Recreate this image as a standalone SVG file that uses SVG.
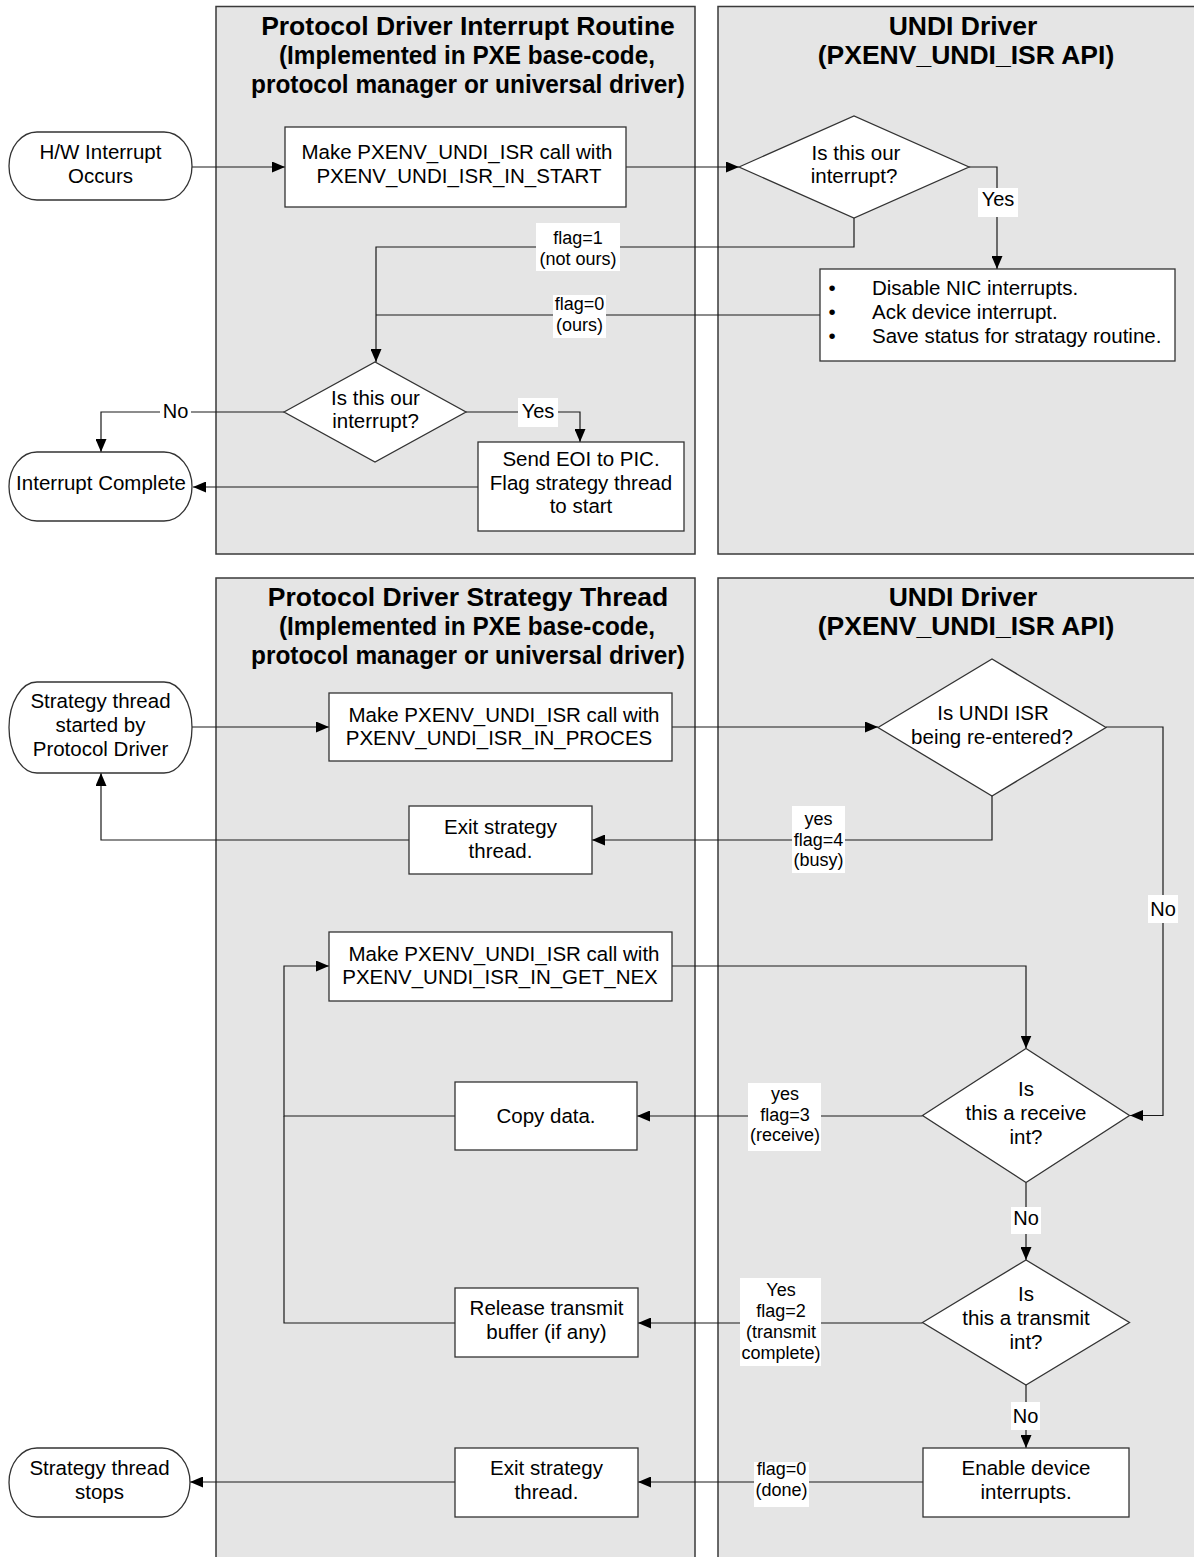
<svg xmlns="http://www.w3.org/2000/svg" width="1194" height="1557" viewBox="0 0 1194 1557">
  <style>
    .panel { fill: #e5e5e5; stroke: #3a3a3a; stroke-width: 1.5; }
    .box { fill: #ffffff; stroke: #333333; stroke-width: 1.3; }
    .ln { fill: none; stroke: #1a1a1a; stroke-width: 1.2; }
    .arr { marker-end: url(#ah); }
    .bg { fill: #ffffff; }
    .t { font-family: "Liberation Sans", Arial, Helvetica, sans-serif; font-size: 20.5px; fill: #000000; text-anchor: middle; }
    .tl { text-anchor: start; }
    .ti { font-weight: bold; font-size: 26.5px; }
    .lb { font-size: 18px; }
    .yn { font-size: 20px; }
  </style>
  <defs>
    <marker id="ah" markerUnits="userSpaceOnUse" markerWidth="13" markerHeight="11" refX="13" refY="5.5" orient="auto">
      <path d="M0,0 L13,5.5 L0,11 Z" fill="#000000"/>
    </marker>
  </defs>

  <rect width="1194" height="1557" fill="#ffffff"/>

  <!-- swimlanes -->
  <g id="lanes">
    <g id="lane-isr-protocol">
      <rect class="panel" x="216" y="6.5" width="479" height="547.5"/>
      <text class="t ti" x="468" y="35">Protocol Driver Interrupt Routine</text>
      <text class="t ti" x="467" y="64" textLength="376" lengthAdjust="spacingAndGlyphs">(Implemented in PXE base-code,</text>
      <text class="t ti" x="468" y="93" textLength="434" lengthAdjust="spacingAndGlyphs">protocol manager or universal driver)</text>
    </g>
    <g id="lane-isr-undi">
      <rect class="panel" x="718" y="6.5" width="490" height="547.5"/>
      <text class="t ti" x="963" y="35">UNDI Driver</text>
      <text class="t ti" x="966" y="64">(PXENV_UNDI_ISR API)</text>
    </g>
    <g id="lane-strategy-protocol">
      <rect class="panel" x="216" y="578" width="479" height="1000"/>
      <text class="t ti" x="468" y="606">Protocol Driver Strategy Thread</text>
      <text class="t ti" x="467" y="635" textLength="376" lengthAdjust="spacingAndGlyphs">(Implemented in PXE base-code,</text>
      <text class="t ti" x="468" y="664" textLength="434" lengthAdjust="spacingAndGlyphs">protocol manager or universal driver)</text>
    </g>
    <g id="lane-strategy-undi">
      <rect class="panel" x="718" y="578" width="490" height="1000"/>
      <text class="t ti" x="963" y="606">UNDI Driver</text>
      <text class="t ti" x="966" y="635">(PXENV_UNDI_ISR API)</text>
    </g>
  </g>

  <!-- connectors -->
  <g id="connectors">
    <path class="ln arr" d="M192,167 H285"/>
    <path class="ln arr" d="M626,167 H739"/>
    <path class="ln arr" d="M969,167 H997 V269"/>
    <path class="ln arr" d="M854,218 V247 H376 V362"/>
    <path class="ln" d="M820,315 H376"/>
    <path class="ln arr" d="M284,412 H101 V452"/>
    <path class="ln arr" d="M466,412 H580 V442"/>
    <path class="ln arr" d="M478,487 H193"/>

    <path class="ln arr" d="M192,727 H329"/>
    <path class="ln arr" d="M672,727 H878"/>
    <path class="ln arr" d="M992,796 V840 H592"/>
    <path class="ln arr" d="M409,840 H101 V773"/>
    <path class="ln arr" d="M1106,727 H1163 V1115.5 H1130"/>
    <path class="ln arr" d="M672,966 H1026 V1048.5"/>
    <path class="ln arr" d="M922.5,1116 H637"/>
    <path class="ln arr" d="M455,1116 H284 V966 H329"/>
    <path class="ln" d="M455,1323 H284 V1116"/>
    <path class="ln arr" d="M1026,1182.5 V1260"/>
    <path class="ln arr" d="M922.5,1323 H638"/>
    <path class="ln arr" d="M1026,1385 V1448"/>
    <path class="ln arr" d="M923,1482 H638"/>
    <path class="ln arr" d="M455,1482 H190"/>

    <!-- branch labels -->
    <rect class="bg" x="978" y="188" width="40" height="29"/>
    <text class="t yn" x="998" y="206">Yes</text>

    <rect class="bg" x="536" y="223" width="84" height="48"/>
    <text class="t lb" x="578" y="244">flag=1</text>
    <text class="t lb" x="578" y="265">(not ours)</text>

    <rect class="bg" x="553" y="295" width="53" height="43"/>
    <text class="t lb" x="579.5" y="310">flag=0</text>
    <text class="t lb" x="579.5" y="331">(ours)</text>

    <rect class="bg" x="160" y="399" width="31" height="26"/>
    <text class="t yn" x="175.5" y="418">No</text>

    <rect class="bg" x="518" y="398" width="40" height="29"/>
    <text class="t yn" x="538" y="418">Yes</text>

    <rect class="bg" x="792" y="806" width="53" height="67"/>
    <text class="t lb" x="818.5" y="825">yes</text>
    <text class="t lb" x="818.5" y="845.5">flag=4</text>
    <text class="t lb" x="818.5" y="866">(busy)</text>

    <rect class="bg" x="1148" y="895" width="30" height="28"/>
    <text class="t yn" x="1163" y="916">No</text>

    <rect class="bg" x="748" y="1083" width="73" height="68"/>
    <text class="t lb" x="785" y="1100">yes</text>
    <text class="t lb" x="785" y="1121">flag=3</text>
    <text class="t lb" x="785" y="1141">(receive)</text>

    <rect class="bg" x="1011" y="1207" width="30" height="27"/>
    <text class="t yn" x="1026" y="1224.5">No</text>

    <rect class="bg" x="740" y="1278" width="81" height="88"/>
    <text class="t lb" x="781" y="1296">Yes</text>
    <text class="t lb" x="781" y="1317">flag=2</text>
    <text class="t lb" x="781" y="1338">(transmit</text>
    <text class="t lb" x="781" y="1359">complete)</text>

    <rect class="bg" x="1011" y="1402" width="29" height="28"/>
    <text class="t yn" x="1025.5" y="1423">No</text>

    <rect class="bg" x="754" y="1462" width="55" height="45"/>
    <text class="t lb" x="781.5" y="1475">flag=0</text>
    <text class="t lb" x="781.5" y="1496">(done)</text>
  </g>

  <!-- interrupt routine nodes -->
  <g id="hw-interrupt">
    <rect class="box" x="9" y="132" width="183" height="68" rx="28" ry="34"/>
    <text class="t" x="100.5" y="159">H/W Interrupt</text>
    <text class="t" x="100.5" y="183">Occurs</text>
  </g>
  <g id="isr-start-call">
    <rect class="box" x="285" y="127" width="341" height="80"/>
    <text class="t" x="457" y="159">Make PXENV_UNDI_ISR call with</text>
    <text class="t" x="459" y="183">PXENV_UNDI_ISR_IN_START</text>
  </g>
  <g id="undi-our-interrupt">
    <polygon class="box" points="739,167 854,116 969,167 854,218"/>
    <text class="t" x="856" y="159.5">Is this our</text>
    <text class="t" x="854" y="183">interrupt?</text>
  </g>
  <g id="undi-ack">
    <rect class="box" x="820" y="269" width="355" height="92"/>
    <text class="t" x="832" y="295">•</text>
    <text class="t" x="832" y="319">•</text>
    <text class="t" x="832" y="343">•</text>
    <text class="t tl" x="872" y="295">Disable NIC interrupts.</text>
    <text class="t tl" x="872" y="319">Ack device interrupt.</text>
    <text class="t tl" x="872" y="343">Save status for stratagy routine.</text>
  </g>
  <g id="protocol-our-interrupt">
    <polygon class="box" points="284,412 375,362 466,412 375,462"/>
    <text class="t" x="375.5" y="404.5">Is this our</text>
    <text class="t" x="375.5" y="428">interrupt?</text>
  </g>
  <g id="send-eoi">
    <rect class="box" x="478" y="442" width="206" height="89"/>
    <text class="t" x="581" y="466">Send EOI to PIC.</text>
    <text class="t" x="581" y="490">Flag strategy thread</text>
    <text class="t" x="581" y="513">to start</text>
  </g>
  <g id="interrupt-complete">
    <rect class="box" x="9" y="452" width="183" height="69" rx="28" ry="34.5"/>
    <text class="t" x="101" y="490">Interrupt Complete</text>
  </g>

  <!-- strategy thread nodes -->
  <g id="strategy-started">
    <rect class="box" x="9" y="682" width="183" height="91" rx="28" ry="45.5"/>
    <text class="t" x="100.5" y="708">Strategy thread</text>
    <text class="t" x="100.5" y="732">started by</text>
    <text class="t" x="100.5" y="756">Protocol Driver</text>
  </g>
  <g id="isr-process-call">
    <rect class="box" x="329" y="693" width="343" height="68"/>
    <text class="t" x="504" y="721.5">Make PXENV_UNDI_ISR call with</text>
    <text class="t" x="499" y="745">PXENV_UNDI_ISR_IN_PROCES</text>
  </g>
  <g id="undi-reentered">
    <polygon class="box" points="878,727.5 992,659 1106,727.5 992,796"/>
    <text class="t" x="993" y="720">Is UNDI ISR</text>
    <text class="t" x="992" y="744">being re-entered?</text>
  </g>
  <g id="exit-busy">
    <rect class="box" x="409" y="806" width="183" height="68"/>
    <text class="t" x="500.5" y="834">Exit strategy</text>
    <text class="t" x="500.5" y="858">thread.</text>
  </g>
  <g id="isr-get-next-call">
    <rect class="box" x="329" y="932" width="343" height="69"/>
    <text class="t" x="504" y="960.5">Make PXENV_UNDI_ISR call with</text>
    <text class="t" x="500" y="984">PXENV_UNDI_ISR_IN_GET_NEX</text>
  </g>
  <g id="copy-data">
    <rect class="box" x="455" y="1082" width="182" height="68"/>
    <text class="t" x="546" y="1123">Copy data.</text>
  </g>
  <g id="undi-receive">
    <polygon class="box" points="922.5,1115.5 1026,1048.5 1129.5,1115.5 1026,1182.5"/>
    <text class="t" x="1026" y="1096">Is</text>
    <text class="t" x="1026" y="1120">this a receive</text>
    <text class="t" x="1026" y="1144">int?</text>
  </g>
  <g id="release-buffer">
    <rect class="box" x="455" y="1288" width="183" height="69"/>
    <text class="t" x="546.5" y="1315">Release transmit</text>
    <text class="t" x="546.5" y="1339">buffer (if any)</text>
  </g>
  <g id="undi-transmit">
    <polygon class="box" points="922.5,1322.5 1026,1260 1129.5,1322.5 1026,1385"/>
    <text class="t" x="1026" y="1301">Is</text>
    <text class="t" x="1026" y="1325">this a transmit</text>
    <text class="t" x="1026" y="1349">int?</text>
  </g>
  <g id="enable-interrupts">
    <rect class="box" x="923" y="1448" width="206" height="69"/>
    <text class="t" x="1026" y="1475">Enable device</text>
    <text class="t" x="1026" y="1499">interrupts.</text>
  </g>
  <g id="exit-done">
    <rect class="box" x="455" y="1448" width="183" height="69"/>
    <text class="t" x="546.5" y="1475">Exit strategy</text>
    <text class="t" x="546.5" y="1499">thread.</text>
  </g>
  <g id="strategy-stops">
    <rect class="box" x="9" y="1448" width="181" height="69" rx="28" ry="34.5"/>
    <text class="t" x="99.5" y="1475">Strategy thread</text>
    <text class="t" x="99.5" y="1499">stops</text>
  </g>
</svg>
